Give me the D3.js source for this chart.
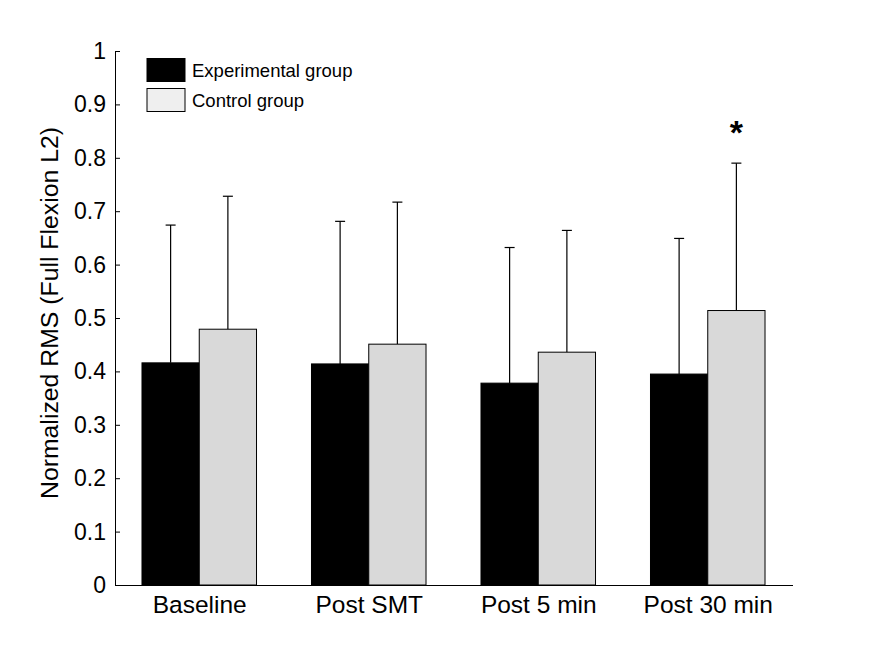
<!DOCTYPE html>
<html>
<head>
<meta charset="utf-8">
<script src="https://cdn.jsdelivr.net/npm/d3@7"></script>
<style>
  html, body { margin: 0; padding: 0; background: #fff; }
  svg { display: block; }
  text { font-family: Arial, "Liberation Sans", sans-serif; fill: #000; }
</style>
</head>
<body>
<svg id="chart" width="875" height="657"></svg>
<script>
// ---- data ----
const categories = ["Baseline", "Post SMT", "Post 5 min", "Post 30 min"];
const seriesNames = ["Experimental group", "Control group"];
const experimentalMean = [0.416, 0.414, 0.378, 0.395];
const experimentalSD   = [0.258, 0.267, 0.254, 0.254];
const controlMean      = [0.479, 0.451, 0.436, 0.514];
const controlSD        = [0.249, 0.266, 0.228, 0.276];
const yTicks = [0, 0.1, 0.2, 0.3, 0.4, 0.5, 0.6, 0.7, 0.8, 0.9, 1];
const yTickLabels = ["0", "0.1", "0.2", "0.3", "0.4", "0.5", "0.6", "0.7", "0.8", "0.9", "1"];
const significant = [false, false, false, true];
const yLabel = "Normalized RMS (Full Flexion L2)";

const svg = d3.select("#chart");
const mLeft = 115, mRight = 793, mTop = 51, mBottom = 585;

const x0 = d3.scaleBand().domain(categories).range([mLeft, mRight]).padding(0);
const x1 = d3.scaleBand().domain(["exp", "ctrl"]).range([0, x0.bandwidth()])
  .paddingInner(0).paddingOuter(0.48);
const y = d3.scaleLinear().domain([0, 1]).range([mBottom, mTop]);

const rows = categories.map((c, i) => ({
  cat: c,
  bars: [
    { key: "exp", mean: experimentalMean[i], sd: experimentalSD[i], fill: "#000000" },
    { key: "ctrl", mean: controlMean[i], sd: controlSD[i], fill: "#d9d9d9" }
  ],
  sig: significant[i],
  idx: i
}));

const groups = svg.selectAll("g.grp").data(rows).join("g")
  .attr("class", "grp")
  .attr("transform", d => `translate(${x0(d.cat) - 0.5},0)`);

// error bars (upper only)
groups.selectAll("g.err").data(d => d.bars).join("g").attr("class", "err").each(function(d) {
  const g = d3.select(this);
  const cx = x1(d.key) + x1.bandwidth() / 2;
  g.append("line").attr("x1", cx).attr("x2", cx)
    .attr("y1", y(d.mean)).attr("y2", y(d.mean + d.sd))
    .attr("stroke", "#000").attr("stroke-width", 1.2);
  g.append("line").attr("x1", cx - 5).attr("x2", cx + 5)
    .attr("y1", y(d.mean + d.sd)).attr("y2", y(d.mean + d.sd))
    .attr("stroke", "#000").attr("stroke-width", 1.2);
});

groups.selectAll("rect").data(d => d.bars).join("rect")
  .attr("x", d => x1(d.key))
  .attr("y", d => y(d.mean))
  .attr("width", x1.bandwidth())
  .attr("height", d => y(0) - y(d.mean))
  .attr("fill", d => d.fill)
  .attr("stroke", "#000")
  .attr("stroke-width", 1);

// significance asterisk
groups.filter(d => d.sig).append("text")
  .attr("x", d => x1("ctrl") + x1.bandwidth() / 2)
  .attr("y", d => y(controlMean[d.idx] + controlSD[d.idx]) - 19)
  .attr("text-anchor", "middle")
  .attr("font-size", 34)
  .attr("font-weight", "bold")
  .text("*");

// y axis
const yAxis = d3.axisRight(y).tickValues(yTicks).tickSize(5).tickFormat("");
const yg = svg.append("g").attr("transform", `translate(${mLeft},0)`).call(yAxis);
yg.select(".domain").attr("d", `M0.5,${mTop}V${mBottom}`).attr("stroke", "#000");
yg.selectAll(".tick line").attr("stroke", "#000");
svg.append("g").selectAll("text").data(yTicks).join("text")
  .attr("x", mLeft - 9)
  .attr("y", d => y(d))
  .attr("dy", "0.35em")
  .attr("text-anchor", "end")
  .attr("font-size", 23)
  .text((d, i) => yTickLabels[i]);

// x axis
const xAxis = d3.axisBottom(x0).tickSize(0).tickFormat("");
const xg = svg.append("g").attr("transform", `translate(0,${mBottom})`).call(xAxis);
xg.select(".domain").attr("d", `M${mLeft},0.5H${mRight}`).attr("stroke", "#000");
svg.append("g").selectAll("text").data(categories).join("text")
  .attr("x", d => x0(d) + x0.bandwidth() / 2)
  .attr("y", 613)
  .attr("text-anchor", "middle")
  .attr("font-size", 24.5)
  .text(d => d);

// y label
svg.append("text")
  .attr("transform", "translate(58,313) rotate(-90)")
  .attr("text-anchor", "middle")
  .attr("font-size", 24.8)
  .text(yLabel);

// legend
const legendFills = ["#000000", "#efefef"];
const lg = svg.append("g").selectAll("g").data(seriesNames).join("g")
  .attr("transform", (d, i) => `translate(147,${58.5 + i * 30})`);
lg.append("rect").attr("width", 38).attr("height", 23)
  .attr("fill", (d, i) => legendFills[i]).attr("stroke", "#000").attr("stroke-width", 1);
lg.append("text").attr("x", 45).attr("y", 18.5).attr("font-size", 18.5).text(d => d);
</script>
</body>
</html>
